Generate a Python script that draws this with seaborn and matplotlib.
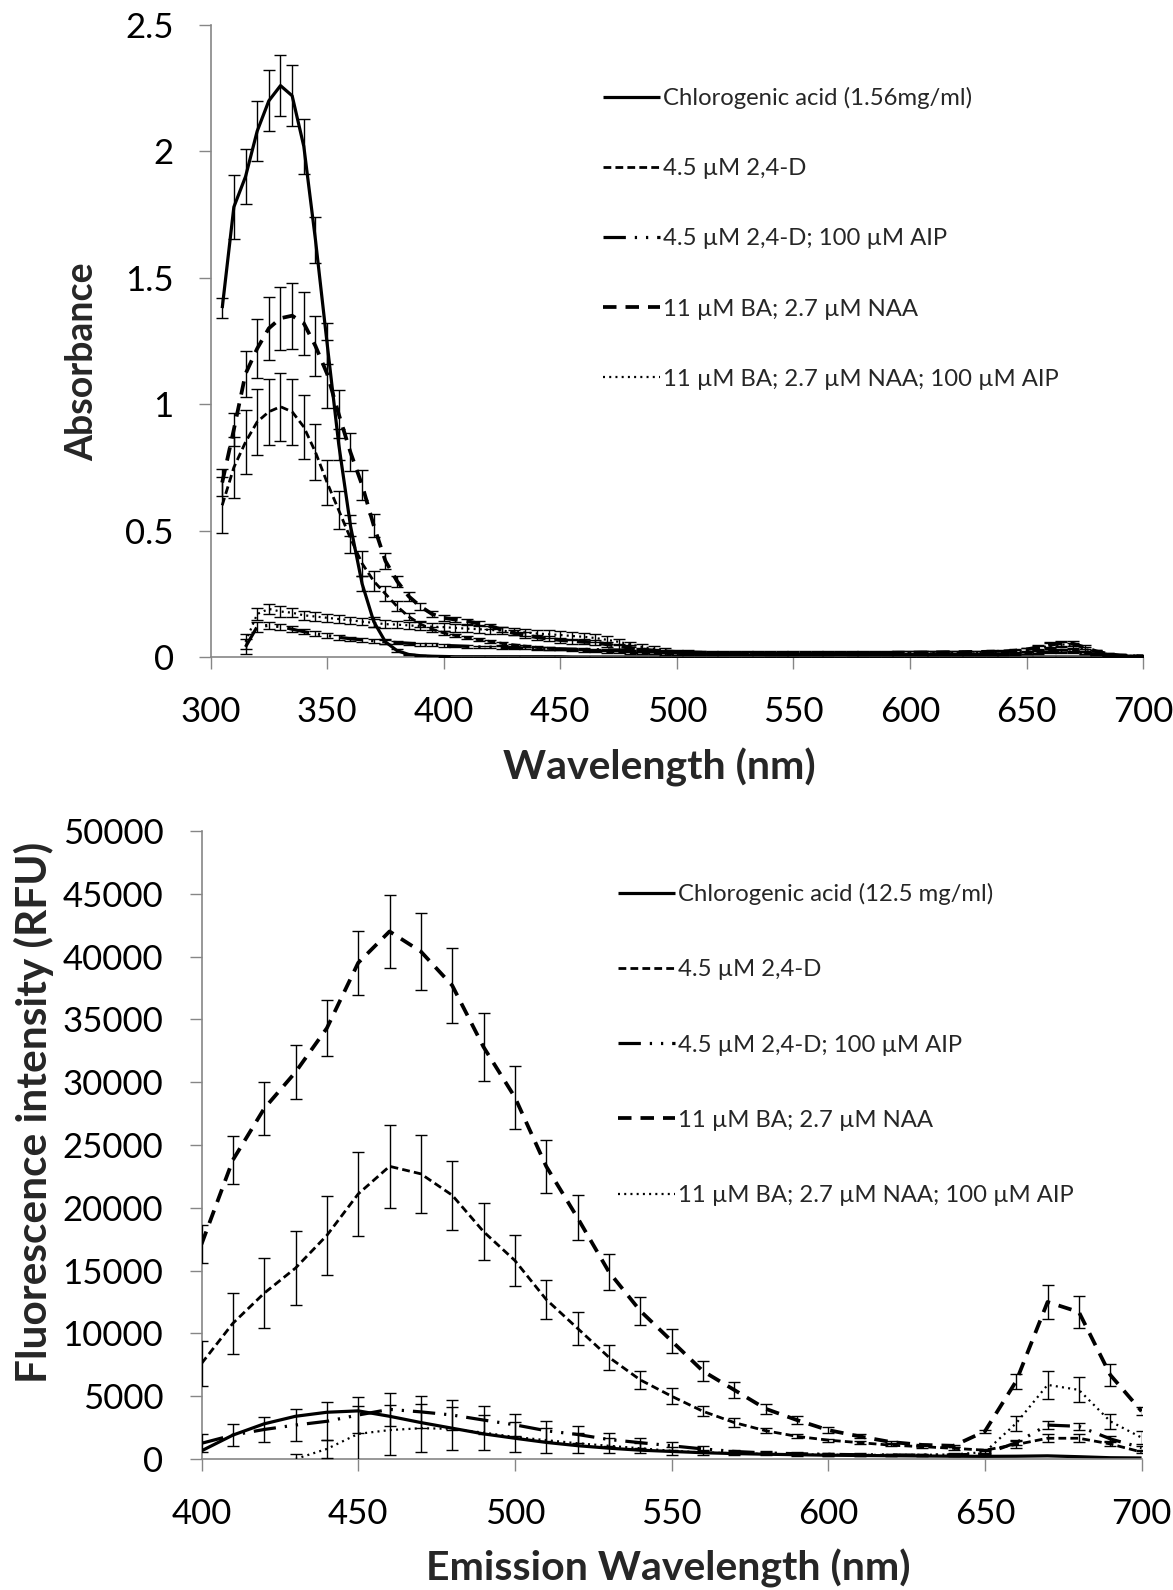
import numpy as np
import pandas as pd
import matplotlib
matplotlib.use("Agg")
import matplotlib.pyplot as plt
import seaborn as sns
from matplotlib.ticker import FuncFormatter

# ---------------- data: absorbance (top) ----------------
wl_abs = list(range(305, 705, 5))
nan = np.nan

cga_abs = [1.38, 1.78, 1.90, 2.08, 2.20, 2.26, 2.22, 2.02, 1.65, 1.24,
           0.84, 0.52, 0.29, 0.14, 0.06, 0.025, 0.01, 0.005, 0.003, 0.002,
           0.001, 0.001, 0.001, 0.001, 0.001, 0.001, 0.001, 0.001, 0.001, 0.001,
           0.0, 0.0, 0.0, 0.0, 0.0, 0.0, 0.0, 0.0, 0.0, 0.0,
           0.0, 0.0, 0.0, 0.0, 0.0, 0.0, 0.0, 0.0, 0.0, 0.0,
           0.0, 0.0, 0.0, 0.0, 0.0, 0.0, 0.0, 0.0, 0.0, 0.0,
           0.0, 0.0, 0.0, 0.0, 0.0, 0.0, 0.0, 0.0, 0.0, 0.0,
           0.0, 0.0, 0.0, 0.0, 0.0, 0.0, 0.0, 0.0, 0.0, 0.0]
cga_abs_err = [0.04, 0.125, 0.11, 0.12, 0.12, 0.12, 0.12, 0.11, 0.09, 0.08,
               0.06, 0.04, 0.03, 0.02, 0.01, 0.005, 0.003, 0.002, 0.001, 0.001,
               0, 0, 0, 0, 0, 0, 0, 0, 0, 0, 0, 0, 0, 0, 0, 0, 0, 0, 0, 0,
               0, 0, 0, 0, 0, 0, 0, 0, 0, 0, 0, 0, 0, 0, 0, 0, 0, 0, 0, 0,
               0, 0, 0, 0, 0, 0, 0, 0, 0, 0, 0, 0, 0, 0, 0, 0, 0, 0, 0, 0]

d24_abs = [0.60, 0.75, 0.85, 0.93, 0.97, 0.99, 0.97, 0.91, 0.81, 0.69,
           0.58, 0.47, 0.37, 0.30, 0.25, 0.20, 0.16, 0.13, 0.11, 0.095,
           0.085, 0.076, 0.068, 0.061, 0.054, 0.048, 0.043, 0.038, 0.034, 0.031,
           0.028, 0.025, 0.023, 0.021, 0.019, 0.017, 0.015, 0.014, 0.013, 0.012,
           0.011, 0.011, 0.011, 0.010, 0.010, 0.010, 0.010, 0.010, 0.010, 0.010,
           0.010, 0.010, 0.010, 0.010, 0.010, 0.010, 0.010, 0.010, 0.010, 0.010,
           0.010, 0.010, 0.010, 0.010, 0.010, 0.010, 0.010, 0.010, 0.012, 0.015,
           0.019, 0.024, 0.027, 0.025, 0.018, 0.011, 0.006, 0.004, 0.002, 0.001]
d24_abs_err = [0.11, 0.12, 0.125, 0.13, 0.13, 0.135, 0.13, 0.125, 0.11, 0.09,
               0.075, 0.06, 0.05, 0.04, 0.03, 0.02, 0.015, 0.012, 0.01, 0.008,
               0.007, 0.006, 0.006, 0.005, 0.005, 0.005, 0.005, 0.005, 0.005, 0.005,
               0.005, 0.005, 0.005, 0.005, 0.005, 0.005, 0.004, 0.004, 0.004, 0.004,
               0.003, 0.003, 0.003, 0.003, 0.003, 0.003, 0.003, 0.003, 0.003, 0.003,
               0.003, 0.003, 0.003, 0.003, 0.003, 0.003, 0.003, 0.003, 0.003, 0.003,
               0.003, 0.003, 0.003, 0.003, 0.003, 0.003, 0.003, 0.003, 0.004, 0.005,
               0.006, 0.006, 0.006, 0.006, 0.005, 0.004, 0.003, 0.003, 0.002, 0.002]

d24_aip_abs = [nan, nan, 0.04, 0.12, 0.125, 0.12, 0.11, 0.10, 0.092, 0.085,
               0.078, 0.072, 0.068, 0.064, 0.060, 0.057, 0.054, 0.051, 0.048, 0.046,
               0.044, 0.042, 0.040, 0.039, 0.037, 0.036, 0.035, 0.034, 0.033, 0.032,
               0.031, 0.030, 0.029, 0.028, 0.027, 0.025, 0.024, 0.022, 0.021, 0.020,
               0.018, 0.017, 0.016, 0.016, 0.015, 0.015, 0.014, 0.014, 0.014, 0.013,
               0.013, 0.013, 0.013, 0.013, 0.012, 0.012, 0.012, 0.012, 0.012, 0.012,
               0.012, 0.012, 0.012, 0.012, 0.012, 0.012, 0.012, 0.012, 0.014, 0.016,
               0.018, 0.020, 0.021, 0.020, 0.016, 0.011, 0.007, 0.005, 0.004, 0.003]
d24_aip_abs_err = [nan, nan, 0.03, 0.02, 0.015, 0.012, 0.012, 0.01, 0.01, 0.01,
                   0.01, 0.008, 0.008, 0.008, 0.007, 0.007, 0.006, 0.006, 0.006, 0.005,
                   0.005, 0.005, 0.005, 0.005, 0.005, 0.005, 0.005, 0.005, 0.005, 0.005,
                   0.004, 0.004, 0.004, 0.004, 0.004, 0.004, 0.004, 0.004, 0.004, 0.004,
                   0.003, 0.003, 0.003, 0.003, 0.003, 0.003, 0.003, 0.003, 0.003, 0.003,
                   0.003, 0.003, 0.003, 0.003, 0.003, 0.003, 0.003, 0.003, 0.003, 0.003,
                   0.003, 0.003, 0.003, 0.003, 0.003, 0.003, 0.003, 0.003, 0.003, 0.004,
                   0.004, 0.005, 0.005, 0.005, 0.004, 0.003, 0.003, 0.002, 0.002, 0.002]

ba_abs = [0.69, 0.90, 1.12, 1.22, 1.30, 1.34, 1.35, 1.32, 1.23, 1.12,
          0.96, 0.81, 0.68, 0.52, 0.38, 0.30, 0.24, 0.20, 0.17, 0.155,
          0.148, 0.142, 0.132, 0.122, 0.108, 0.095, 0.087, 0.078, 0.072, 0.067,
          0.063, 0.060, 0.058, 0.050, 0.043, 0.036, 0.030, 0.025, 0.022, 0.020,
          0.018, 0.017, 0.016, 0.016, 0.015, 0.015, 0.015, 0.014, 0.014, 0.014,
          0.014, 0.014, 0.014, 0.015, 0.015, 0.015, 0.016, 0.016, 0.017, 0.017,
          0.018, 0.018, 0.019, 0.019, 0.020, 0.020, 0.021, 0.022, 0.025, 0.030,
          0.038, 0.048, 0.055, 0.052, 0.038, 0.022, 0.012, 0.006, 0.004, 0.003]
ba_abs_err = [0.055, 0.065, 0.09, 0.115, 0.125, 0.125, 0.13, 0.125, 0.12, 0.135,
              0.095, 0.075, 0.06, 0.045, 0.03, 0.022, 0.018, 0.015, 0.013, 0.012,
              0.01, 0.01, 0.01, 0.01, 0.01, 0.01, 0.01, 0.01, 0.01, 0.01,
              0.01, 0.01, 0.01, 0.01, 0.01, 0.01, 0.006, 0.005, 0.005, 0.005,
              0.005, 0.005, 0.005, 0.005, 0.005, 0.005, 0.005, 0.005, 0.005, 0.005,
              0.005, 0.005, 0.005, 0.005, 0.005, 0.005, 0.005, 0.005, 0.005, 0.005,
              0.005, 0.005, 0.005, 0.005, 0.005, 0.005, 0.005, 0.005, 0.006, 0.007,
              0.008, 0.01, 0.01, 0.01, 0.008, 0.006, 0.004, 0.004, 0.004, 0.004]

ba_aip_abs = [nan, nan, 0.06, 0.17, 0.19, 0.18, 0.175, 0.165, 0.16, 0.155,
              0.15, 0.145, 0.14, 0.135, 0.13, 0.128, 0.125, 0.122, 0.12, 0.118,
              0.115, 0.112, 0.11, 0.107, 0.104, 0.10, 0.097, 0.093, 0.09, 0.087,
              0.083, 0.08, 0.075, 0.068, 0.06, 0.05, 0.04, 0.032, 0.026, 0.022,
              0.020, 0.018, 0.018, 0.018, 0.017, 0.017, 0.017, 0.017, 0.016, 0.016,
              0.016, 0.016, 0.016, 0.016, 0.016, 0.016, 0.016, 0.016, 0.016, 0.016,
              0.016, 0.016, 0.016, 0.016, 0.016, 0.016, 0.016, 0.016, 0.020, 0.026,
              0.035, 0.044, 0.050, 0.046, 0.032, 0.020, 0.011, 0.006, 0.004, 0.003]
ba_aip_abs_err = [nan, nan, 0.03, 0.025, 0.02, 0.02, 0.018, 0.017, 0.016, 0.015,
                  0.015, 0.015, 0.015, 0.015, 0.015, 0.015, 0.015, 0.015, 0.015, 0.015,
                  0.015, 0.015, 0.015, 0.015, 0.015, 0.015, 0.015, 0.015, 0.015, 0.015,
                  0.015, 0.015, 0.015, 0.015, 0.012, 0.01, 0.01, 0.01, 0.008, 0.007,
                  0.006, 0.006, 0.006, 0.006, 0.006, 0.006, 0.006, 0.006, 0.006, 0.006,
                  0.006, 0.006, 0.006, 0.006, 0.006, 0.006, 0.006, 0.006, 0.006, 0.006,
                  0.006, 0.006, 0.006, 0.006, 0.006, 0.006, 0.006, 0.006, 0.007, 0.008,
                  0.009, 0.01, 0.01, 0.01, 0.009, 0.007, 0.005, 0.004, 0.003, 0.003]

# ---------------- data: fluorescence (bottom) ----------------
wl_fl = list(range(400, 710, 10))

cga_fl = [650, 1900, 2800, 3400, 3720, 3830, 3400, 2900, 2450, 2000,
          1650, 1320, 1060, 860, 700, 600, 500, 430, 380, 340,
          300, 280, 260, 240, 220, 210, 220, 250, 180, 100, 80]

d24_fl = [7600, 10800, 13200, 15200, 17800, 21100, 23300, 22700, 21000, 18100,
          15800, 12700, 10400, 8100, 6300, 5000, 3800, 2900, 2250, 1800,
          1500, 1300, 1100, 980, 850, 700, 1150, 1650, 1650, 1200, 550]
d24_fl_err = [1800, 2450, 2770, 2950, 3130, 3320, 3290, 3100, 2740, 2280,
              2000, 1540, 1300, 1000, 730, 660, 400, 370, 200, 150,
              120, 100, 100, 100, 100, 100, 250, 300, 300, 200, 100]

d24_aip_fl = [1250, 1900, 2350, 2700, 3000, 3500, 3950, 3750, 3500, 3100,
              2720, 2250, 1950, 1550, 1300, 1050, 800, 600, 480, 420,
              370, 340, 320, 310, 320, 400, 1300, 2700, 2600, 1600, 900]
d24_aip_fl_err = [700, 850, 1000, 1300, 1500, 1400, 1300, 1300, 1200, 1100,
                  900, 800, 700, 500, 400, 300, 200, 150, 120, 100,
                  100, 100, 100, 100, 100, 100, 200, 300, 300, 250, 150]

ba_fl = [17100, 23800, 27900, 30800, 34300, 39500, 42000, 40400, 37700, 32800,
         28800, 23300, 19200, 14900, 11800, 9400, 7000, 5500, 4000, 3100,
         2300, 1800, 1350, 1120, 1050, 2200, 6200, 12500, 11700, 6700, 3800]
ba_fl_err = [1500, 1890, 2100, 2140, 2215, 2545, 2920, 3070, 2990, 2725,
             2500, 2125, 1800, 1420, 1120, 930, 770, 625, 400, 305,
             240, 160, 110, 80, 80, 100, 600, 1330, 1290, 865, 300]

ba_aip_fl = [nan, nan, nan, 0, 800, 2000, 2300, 2450, 2400, 2100,
             1750, 1500, 1250, 1050, 850, 650, 520, 460, 400, 370,
             340, 330, 320, 330, 360, 550, 2850, 5900, 5500, 3000, 1700]
ba_aip_fl_err = [nan, nan, nan, 400, 700, 2200, 2000, 1900, 1700, 1400,
                 1200, 1000, 800, 600, 400, 300, 200, 150, 120, 100,
                 100, 100, 100, 100, 100, 150, 600, 1130, 1000, 600, 500]

labels_abs = ["Chlorogenic acid (1.56mg/ml)", "4.5 \u00b5M 2,4-D",
              "4.5 \u00b5M 2,4-D; 100 \u00b5M AIP", "11 \u00b5M BA; 2.7 \u00b5M NAA",
              "11 \u00b5M BA; 2.7 \u00b5M NAA; 100 \u00b5M AIP"]
labels_fl = ["Chlorogenic acid (12.5 mg/ml)"] + labels_abs[1:]

# ---------------- styling ----------------
sns.set_theme(style="white")
plt.rcParams['font.family'] = ['Lato', 'DejaVu Sans']

GRAY = '#868686'
styles = [
    dict(lw=2.3, dashes=None),                            # chlorogenic acid
    dict(lw=2.0, dashes=(2.8, 1.5)),                      # 2,4-D short dash
    dict(lw=2.3, dashes=(7.0, 2.8, 0.7, 2.8, 0.7, 2.8)),  # long dash dot dot
    dict(lw=2.7, dashes=(3.6, 2.4)),                      # BA long dash
    dict(lw=1.6, dashes=(0.9, 1.9)),                      # dotted
]

fig = plt.figure(figsize=(11.73, 15.90), dpi=100)
ax1 = fig.add_axes([0.1795, 0.5868, 0.795, 0.3975])
ax2 = fig.add_axes([0.1718, 0.0824, 0.8014, 0.395])


def draw(ax, x, series, errs, labels):
    handles = []
    for y, e, lab, st in zip(series, errs, labels, styles):
        df = pd.DataFrame({"x": x, "y": y})
        n_before = len(ax.lines)
        sns.lineplot(data=df, x="x", y="y", ax=ax, color="black",
                     linewidth=st["lw"], label=lab, errorbar=None, legend=False)
        line = ax.lines[n_before]
        line.set_solid_capstyle('butt')
        line.set_dash_capstyle('butt')
        if st["dashes"] is not None:
            line.set_dashes(st["dashes"])
        handles.append(line)
        if e is not None:
            ax.errorbar(x, y, yerr=e, fmt='none', ecolor='black',
                        elinewidth=1.0, capsize=4.2, capthick=1.0, zorder=3)
    return handles


h1 = draw(ax1, wl_abs,
          [cga_abs, d24_abs, d24_aip_abs, ba_abs, ba_aip_abs],
          [cga_abs_err, d24_abs_err, d24_aip_abs_err, ba_abs_err, ba_aip_abs_err],
          labels_abs)
h2 = draw(ax2, wl_fl,
          [cga_fl, d24_fl, d24_aip_fl, ba_fl, ba_aip_fl],
          [None, d24_fl_err, d24_aip_fl_err, ba_fl_err, ba_aip_fl_err],
          labels_fl)

fmt = FuncFormatter(lambda v, p: ('%g' % v))

for ax in (ax1, ax2):
    for s in ('top', 'right'):
        ax.spines[s].set_visible(False)
    for s in ('left', 'bottom'):
        ax.spines[s].set_color(GRAY)
        ax.spines[s].set_linewidth(1.2)
    ax.tick_params(axis='both', which='major', direction='out', length=8.5,
                   width=1.0, color=GRAY, labelsize=25, labelcolor='black',
                   bottom=True, left=True)
    ax.grid(False)
    ax.yaxis.set_major_formatter(fmt)

ax1.set_xlim(300, 700)
ax1.set_ylim(0, 2.5)
ax1.set_xticks(range(300, 701, 50))
ax1.set_yticks([0, 0.5, 1, 1.5, 2, 2.5])
ax1.tick_params(axis='x', pad=19.5)
ax1.tick_params(axis='y', pad=18)
ax1.set_xlabel("Wavelength (nm)", fontsize=29.5, fontweight='bold', labelpad=14.5)
ax1.set_ylabel("Absorbance", fontsize=27, fontweight='bold', labelpad=18.5)
ax1.xaxis.label.set_x(0.481)
ax1.yaxis.label.set_y(0.467)

ax2.set_xlim(400, 700)
ax2.set_ylim(0, 50000)
ax2.set_xticks(range(400, 701, 50))
ax2.set_yticks(range(0, 50001, 5000))
ax2.tick_params(axis='x', pad=19.5)
ax2.tick_params(axis='y', pad=19)
ax2.set_xlabel("Emission Wavelength (nm)", fontsize=29.5, fontweight='bold', labelpad=13.5)
ax2.set_ylabel("Fluorescence intensity (RFU)", fontsize=30.5, fontweight='bold', labelpad=6)
ax2.xaxis.label.set_x(0.497)
ax2.yaxis.label.set_y(0.5525)

leg_kw = dict(frameon=False, fontsize=17.2, handlelength=2.4, handletextpad=0.12,
              borderpad=0, borderaxespad=0, loc='upper left')
ax1.legend(handles=h1, labels=labels_abs, bbox_to_anchor=(0.421, 0.902),
           labelspacing=2.06, **leg_kw)
ax2.legend(handles=h2, labels=labels_fl, bbox_to_anchor=(0.443, 0.917),
           labelspacing=2.27, **leg_kw)

fig.savefig("out.png", dpi=100, facecolor='white')
